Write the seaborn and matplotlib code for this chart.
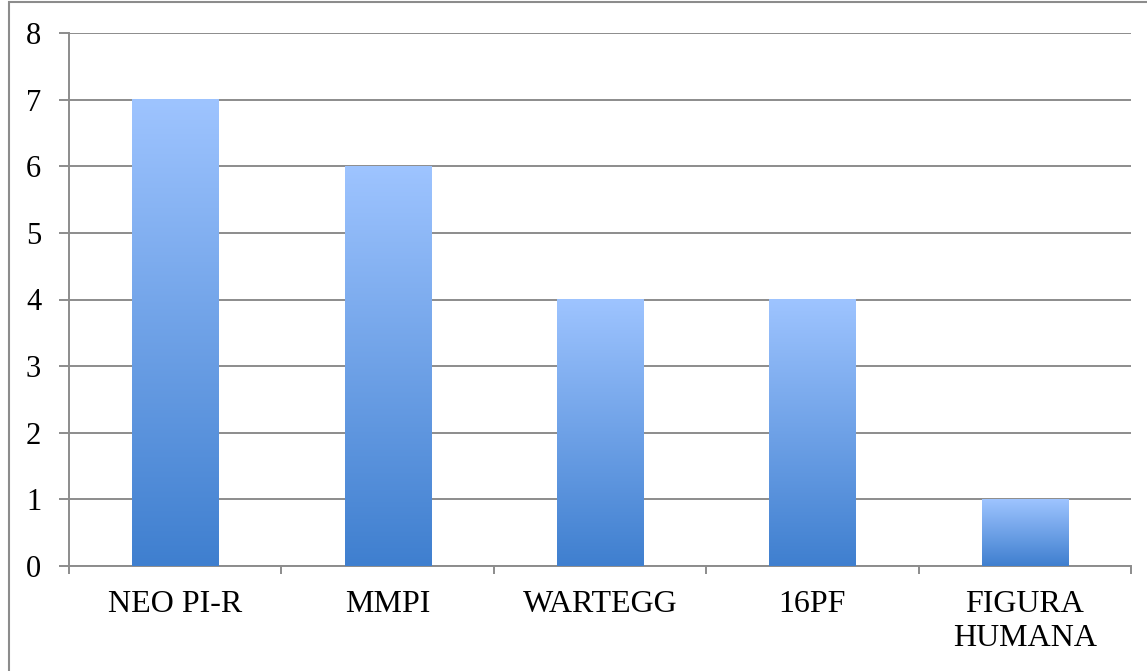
import numpy as np
import pandas as pd
import matplotlib
matplotlib.use("Agg")
import matplotlib.pyplot as plt
import seaborn as sns
from matplotlib.colors import LinearSegmentedColormap
from matplotlib.patches import Rectangle

categories = ["NEO PI-R", "MMPI", "WARTEGG", "16PF", "FIGURA\nHUMANA"]
values = [7, 6, 4, 4, 1]
y_ticks = [0, 1, 2, 3, 4, 5, 6, 7, 8]

sns.set_theme(style="white")
plt.rcParams['font.family'] = ['Liberation Serif', 'DejaVu Serif']
plt.rcParams['text.color'] = 'black'
plt.rcParams['xtick.labelcolor'] = 'black'
plt.rcParams['ytick.labelcolor'] = 'black'

W, H = 1147, 671
fig = plt.figure(figsize=(W / 100, H / 100), dpi=100)
ax = fig.add_axes([69 / W, 1 - 566 / H, (1131 - 69) / W, (566 - 33) / H])

df = pd.DataFrame({"cat": categories, "val": values})
sns.barplot(data=df, x="cat", y="val", ax=ax, width=0.405, color="#6b9be0")

grey = "#8c8c8c"
cmap = LinearSegmentedColormap.from_list("g", ["#3f7fcf", "#9ec4ff"])
grad = np.linspace(0, 1, 256).reshape(-1, 1)
for p in list(ax.patches):
    x0, y0 = p.get_x(), p.get_y()
    w, h = p.get_width(), p.get_height()
    ax.imshow(grad, extent=[x0, x0 + w, y0, y0 + h], origin="lower",
              aspect="auto", cmap=cmap, zorder=3, interpolation="bicubic")
    p.set_visible(False)

ax.set_xlim(-0.5, 4.5)
ax.set_ylim(0, 8)
ax.set_yticks(y_ticks)
ax.set_xticks(range(len(categories)))
ax.set_xticklabels(categories, fontsize=23, linespacing=1.25, color="black")
ax.set_xticks(np.arange(-0.5, len(categories), 1), minor=True)
ax.set_xlabel("")
ax.set_ylabel("")

ax.yaxis.grid(True, color=grey, lw=1.4)
ax.xaxis.grid(False)
ax.set_axisbelow(True)

for s in ["top", "right"]:
    ax.spines[s].set_visible(False)
for s in ["left", "bottom"]:
    ax.spines[s].set_visible(True)
    ax.spines[s].set_color(grey)
    ax.spines[s].set_linewidth(1.4)

ax.tick_params(axis="y", which="major", left=True, length=7, width=1.4,
               color=grey, pad=13, labelsize=22, direction="out",
               labelcolor="black")
ax.tick_params(axis="x", which="major", bottom=True, length=0, pad=17,
               labelsize=23, labelcolor="black")
ax.tick_params(axis="x", which="minor", bottom=True, length=6, width=1.4,
               color=grey, direction="out")

fig.add_artist(Rectangle((9 / W, -0.1), 1.2, 1.1 - 2 / H, transform=fig.transFigure,
                         fill=False, edgecolor=grey, lw=1.5))

fig.savefig("out.png", dpi=100, facecolor="white")
